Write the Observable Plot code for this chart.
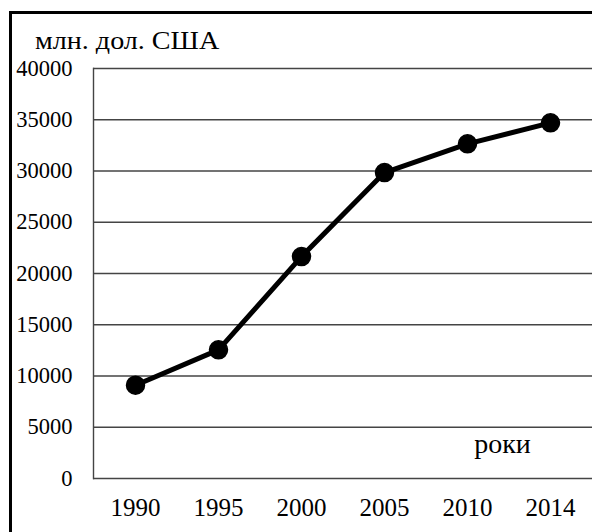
<!DOCTYPE html>
<html>
<head>
<meta charset="utf-8">
<script src="https://cdn.jsdelivr.net/npm/d3@7"></script>
<script src="https://cdn.jsdelivr.net/npm/@observablehq/plot@0.6"></script>
<style>
  html, body { margin: 0; padding: 0; background: #fff; }
  #wrap { position: relative; width: 592px; height: 532px; overflow: hidden; font-family: "Liberation Serif", serif; }
  #border { position: absolute; left: 9px; top: 11px; right: -10px; bottom: -10px; border-left: 3px solid #000; border-top: 3px solid #000; }
  #title { position: absolute; left: 35px; top: 26px; font-family: "Liberation Serif", serif; font-size: 26px; color: #000; white-space: nowrap; transform: scaleX(1.08); transform-origin: left center; }
  #chart { position: absolute; left: 0; top: 0; }
  #chart svg text { font-family: "Liberation Serif", serif !important; }
</style>
</head>
<body>
<div id="wrap">
  <div id="chart"></div>
  <div id="border"></div>
  <div id="title">млн. дол. США</div>
</div>
<script>
const years = ["1990", "1995", "2000", "2005", "2010", "2014"];
const values = [9100, 12550, 21650, 29850, 32650, 34700];
const yTicks = [0, 5000, 10000, 15000, 20000, 25000, 30000, 35000, 40000];
const xLabel = "роки";

const data = years.map((y, i) => ({year: y, value: values[i]}));
const serif = "'Liberation Serif', serif";

const chart = Plot.plot({
  width: 592,
  height: 532,
  marginLeft: 93,
  marginRight: 0,
  marginTop: 68,
  marginBottom: 54,
  style: {fontFamily: serif, background: "transparent", color: "#000"},
  x: {type: "point", domain: years, padding: 0.5},
  y: {domain: [0, 40000]},
  marks: [
    Plot.ruleY(yTicks, {stroke: "#444", strokeWidth: 1.4}),
    Plot.frame({anchor: "left", stroke: "#444", strokeWidth: 1.4}),
    Plot.axisY(yTicks, {tickSize: 0, tickPadding: 21, fontSize: 22.5, fontFamily: serif, tickFormat: d => String(d), label: null}),
    Plot.axisX(years, {tickSize: 0, tickPadding: 20, fontSize: 25, fontFamily: serif, label: null}),
    Plot.line(data, {x: "year", y: "value", stroke: "#000", strokeWidth: 5}),
    Plot.dot(data, {x: "year", y: "value", r: 9, fill: "#000", stroke: "#000"}),
    Plot.text([xLabel], {frameAnchor: "bottom-right", dx: -90, dy: -26, fontSize: 28, fontFamily: serif, textAnchor: "middle", fill: "#000"})
  ]
});
document.getElementById("chart").appendChild(chart);
</script>
</body>
</html>
